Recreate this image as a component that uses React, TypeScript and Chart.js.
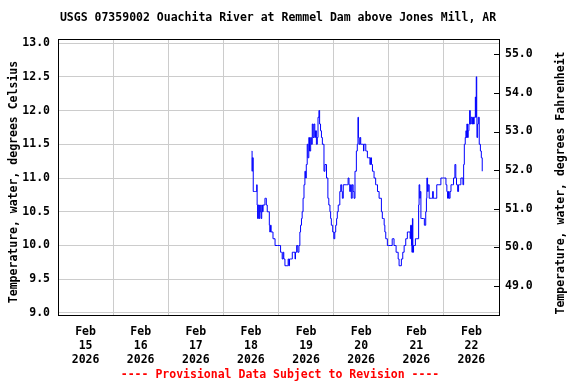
import React, { useEffect, useRef } from 'react';
import { Chart, registerables } from 'chart.js';

Chart.register(...registerables);

const TITLE = 'USGS 07359002 Ouachita River at Remmel Dam above Jones Mill, AR';
const FOOTER = '---- Provisional Data Subject to Revision ----';
const Y_LEFT_TITLE = 'Temperature, water, degrees Celsius';
const Y_RIGHT_TITLE = 'Temperature, water, degrees Fahrenheit';
const MONTH = 'Feb';
const YEAR = '2026';
const DAY_LABELS = ['15', '16', '17', '18', '19', '20', '21', '22'];
const CELSIUS_TICKS = [9.0, 9.5, 10.0, 10.5, 11.0, 11.5, 12.0, 12.5, 13.0];
const FAHRENHEIT_TICKS = [49.0, 50.0, 51.0, 52.0, 53.0, 54.0, 55.0];

// hours since Feb 15 00:00
const HOURS = [
  84.4, 84.5, 84.6, 85.0, 85.5, 86.0, 86.5, 86.7, 86.9, 87.2, 87.5, 87.8, 88.1, 88.4, 88.7, 89.0,
  89.3, 89.8, 90.1, 90.4, 90.7, 91.1, 91.6, 92.0, 92.2, 92.5, 92.8, 93.2, 93.6, 94.0, 94.5, 95.5,
  96.6, 96.9, 97.3, 97.6, 98.0, 98.3, 98.8, 99.3, 99.8, 100.2, 100.5, 100.8, 101.2, 101.6, 102.0, 102.7,
  103.2, 103.4, 103.9, 104.4, 104.9, 105.3, 105.6, 106.0, 106.3, 106.7, 107.1, 107.5, 107.8, 108.1, 108.5, 108.8,
  109.2, 109.5, 110.0, 110.3, 110.7, 111.0, 111.4, 111.8, 112.1, 112.5, 112.9, 113.2, 113.6, 113.9, 114.3, 114.7,
  115.1, 115.4, 115.8, 116.2, 116.9, 117.5, 117.9, 118.4, 118.7, 119.0, 119.6, 120.1, 120.5, 120.9, 121.3, 121.6,
  122.0, 122.3, 122.7, 123.1, 123.5, 123.8, 124.2, 124.5, 125.0, 125.7, 126.0, 126.3, 126.7, 127.0, 127.4, 127.7,
  128.1, 128.5, 128.9, 129.3, 129.9, 130.3, 130.6, 130.8, 131.1, 131.5, 131.8, 132.2, 132.5, 133.0, 133.2, 133.6,
  134.0, 134.4, 134.7, 135.1, 135.4, 135.8, 136.1, 136.5, 136.9, 137.3, 137.6, 138.3, 138.7, 139.1, 139.8, 140.2,
  140.8, 141.2, 141.7, 142.0, 142.3, 142.7, 143.4, 144.0, 144.9, 145.5, 145.7, 146.3, 146.8, 147.2, 147.6, 148.1,
  148.5, 148.9, 149.5, 150.1, 150.7, 151.0, 151.4, 152.1, 152.8, 153.3, 153.5, 153.9, 154.1, 154.3, 154.5, 154.8,
  155.3, 155.6, 156.2, 156.8, 157.0, 157.2, 157.5, 157.7, 158.0, 158.3, 159.1, 159.5, 159.7, 160.1, 160.4, 160.6,
  160.9, 161.2, 161.6, 162.0, 162.6, 163.1, 163.4, 163.8, 164.1, 164.5, 164.9, 165.5, 165.9, 166.7, 167.4, 167.9,
  168.4, 168.9, 169.3, 169.6, 170.0, 170.3, 170.7, 171.1, 171.8, 172.2, 172.5, 172.8, 173.2, 173.5, 174.0, 174.4,
  174.7, 175.1, 175.4, 176.0, 176.3, 176.6, 176.9, 177.3, 177.6, 177.8, 178.0, 178.3, 178.6, 178.9, 179.2, 179.5,
  179.8, 180.2, 180.5, 180.9, 181.2, 181.5, 181.7, 181.9, 182.1, 182.3, 182.4, 182.7, 183.0, 183.4, 183.9, 184.3,
  184.7,
];

const TEMPS_C = [
  11.4, 11.1, 11.3, 10.8, 10.8, 10.8, 10.9, 10.6, 10.4, 10.6, 10.4, 10.6, 10.5, 10.4, 10.6, 10.5,
  10.6, 10.6, 10.7, 10.7, 10.6, 10.5, 10.5, 10.3, 10.2, 10.3, 10.2, 10.2, 10.1, 10.1, 10.0, 10.0,
  10.0, 9.9, 9.9, 9.8, 9.9, 9.8, 9.7, 9.7, 9.7, 9.8, 9.7, 9.8, 9.8, 9.8, 9.9, 9.9,
  9.8, 9.9, 10.0, 9.9, 10.0, 10.2, 10.3, 10.4, 10.5, 10.7, 10.9, 11.1, 11.0, 11.2, 11.5, 11.3,
  11.6, 11.4, 11.6, 11.5, 11.8, 11.6, 11.8, 11.6, 11.7, 11.5, 11.6, 11.9, 12.0, 11.8, 11.7, 11.6,
  11.5, 11.5, 11.1, 11.2, 11.0, 10.7, 10.6, 10.5, 10.4, 10.3, 10.2, 10.1, 10.2, 10.3, 10.4, 10.5,
  10.6, 10.6, 10.8, 10.9, 10.8, 10.7, 10.9, 10.9, 10.9, 10.9, 10.9, 11.0, 10.9, 10.8, 10.9, 10.7,
  10.9, 10.8, 10.7, 11.1, 11.4, 11.5, 11.9, 11.6, 11.5, 11.6, 11.5, 11.5, 11.5, 11.4, 11.5, 11.5,
  11.4, 11.4, 11.3, 11.3, 11.3, 11.2, 11.3, 11.2, 11.1, 11.1, 11.0, 10.9, 10.9, 10.8, 10.7, 10.7,
  10.5, 10.4, 10.4, 10.3, 10.2, 10.1, 10.0, 10.0, 10.0, 10.1, 10.1, 10.0, 10.0, 9.9, 9.9, 9.8,
  9.7, 9.7, 9.8, 9.9, 10.0, 10.0, 10.1, 10.2, 10.2, 10.1, 10.3, 10.0, 9.9, 10.4, 9.9, 10.0,
  10.0, 10.1, 10.1, 10.1, 10.6, 10.9, 10.7, 10.8, 10.4, 10.4, 10.4, 10.3, 10.3, 10.5, 10.7, 11.0,
  10.8, 10.9, 10.7, 10.7, 10.7, 10.8, 10.7, 10.7, 10.7, 10.7, 10.9, 10.9, 10.9, 11.0, 11.0, 11.0,
  11.0, 10.9, 10.8, 10.7, 10.8, 10.7, 10.8, 10.9, 10.9, 11.0, 11.0, 11.2, 11.0, 10.9, 10.8, 10.9,
  10.9, 10.9, 11.0, 11.0, 10.9, 11.2, 11.5, 11.6, 11.7, 11.6, 11.8, 11.6, 11.7, 11.8, 12.0, 11.8,
  11.9, 11.8, 11.9, 11.8, 11.9, 11.9, 12.2, 11.9, 12.5, 11.9, 11.6, 11.8, 11.9, 11.5, 11.4, 11.3,
  11.1,
];

const FONT_FAMILY = '"DejaVu Sans Mono", "Liberation Mono", monospace';
const FONT_SIZE = 11.5;
const FONT = `bold ${FONT_SIZE}px ${FONT_FAMILY}`;

const X_TICK_VALUES: number[] = [];
for (let h = 0; h <= DAY_LABELS.length * 24; h += 12) X_TICK_VALUES.push(h);

const decorPlugin = {
  id: 'decor',
  afterDraw(chart: any) {
    const { ctx, chartArea } = chart;
    const { left, right, top, bottom } = chartArea;
    ctx.save();
    const y2 = chart.scales.y2;
    ctx.strokeStyle = '#000';
    ctx.lineWidth = 1;
    FAHRENHEIT_TICKS.forEach((v) => {
      const y = Math.round(y2.getPixelForValue(v)) + 0.5;
      ctx.beginPath();
      ctx.moveTo(right - 5, y);
      ctx.lineTo(right, y);
      ctx.stroke();
    });
    ctx.strokeRect(Math.round(left) + 0.5, Math.round(top) + 0.5, Math.round(right - left), Math.round(bottom - top));
    ctx.fillStyle = '#000';
    ctx.font = FONT;
    ctx.textAlign = 'center';
    ctx.textBaseline = 'middle';
    ctx.fillText(TITLE, 278, 18.5);
    ctx.fillStyle = '#ff0000';
    ctx.fillText(FOOTER, 280, 375.5);
    ctx.fillStyle = '#000';
    ctx.save();
    ctx.translate(14, 182);
    ctx.rotate(-Math.PI / 2);
    ctx.fillText(Y_LEFT_TITLE, 0, 0);
    ctx.restore();
    ctx.save();
    ctx.translate(561, 183);
    ctx.rotate(-Math.PI / 2);
    ctx.fillText(Y_RIGHT_TITLE, 0, 0);
    ctx.restore();
    ctx.restore();
  },
};

export default function App() {
  const canvasRef = useRef<HTMLCanvasElement | null>(null);

  useEffect(() => {
    const canvas = canvasRef.current;
    if (!canvas) return;
    const points = HOURS.map((h, i) => ({ x: h, y: TEMPS_C[i] }));
    const tickFont = { family: FONT_FAMILY, size: FONT_SIZE, weight: 'bold' as const, lineHeight: 1.2 };
    const xTickFont = { family: FONT_FAMILY, size: FONT_SIZE, weight: 'bold' as const, lineHeight: '14px' };
    const chart = new Chart(canvas, {
      type: 'line',
      data: {
        datasets: [
          {
            data: points,
            borderColor: '#0000ff',
            borderWidth: 1,
            pointRadius: 0,
            stepped: true,
            fill: false,
            yAxisID: 'y',
          },
        ],
      },
      options: {
        responsive: false,
        animation: false,
        events: [],
        layout: { padding: { top: 39, left: 0, right: 0, bottom: 0 } },
        plugins: {
          legend: { display: false },
          tooltip: { enabled: false },
          title: { display: false },
        },
        scales: {
          x: {
            type: 'linear',
            position: 'bottom',
            min: 0,
            max: DAY_LABELS.length * 24,
            afterBuildTicks: (s: any) => {
              s.ticks = X_TICK_VALUES.map((v) => ({ value: v }));
            },
            afterFit: (s: any) => {
              s.height = 69;
            },
            grid: {
              color: (c: any) => (c.tick && c.tick.value % 24 === 0 ? '#cccccc' : 'rgba(0,0,0,0)'),
              drawTicks: false,
              lineWidth: 1,
            },
            border: { display: false },
            ticks: {
              autoSkip: false,
              maxRotation: 0,
              minRotation: 0,
              padding: 10,
              color: '#000',
              font: xTickFont,
              callback: (v: any) => {
                const n = Number(v);
                if (n % 24 !== 12) return '';
                const d = DAY_LABELS[Math.floor(n / 24)];
                return [MONTH, d, YEAR];
              },
            },
          },
          y: {
            type: 'linear',
            position: 'left',
            min: 8.97,
            max: 13.06,
            afterBuildTicks: (s: any) => {
              s.ticks = CELSIUS_TICKS.map((v) => ({ value: v }));
            },
            afterFit: (s: any) => {
              s.width = 58;
            },
            grid: { color: '#cccccc', drawTicks: false, lineWidth: 1 },
            border: { display: false },
            ticks: {
              padding: 8,
              color: '#000',
              font: tickFont,
              callback: (v: any) => Number(v).toFixed(1),
            },
          },
          y2: {
            type: 'linear',
            position: 'right',
            min: 48.24,
            max: 55.4,
            afterBuildTicks: (s: any) => {
              s.ticks = FAHRENHEIT_TICKS.map((v) => ({ value: v }));
            },
            afterFit: (s: any) => {
              s.width = 77;
            },
            grid: { display: false, drawTicks: false },
            border: { display: false },
            ticks: {
              padding: 6,
              color: '#000',
              font: tickFont,
              callback: (v: any) => Number(v).toFixed(1),
            },
          },
        },
      },
      plugins: [decorPlugin],
    });
    return () => chart.destroy();
  }, []);

  return (
    <div style={{ position: 'absolute', left: 0, top: 0, width: 576, height: 384, background: '#fff' }}>
      <canvas ref={canvasRef} width={576} height={384} style={{ display: 'block', width: 576, height: 384 }} />
    </div>
  );
}
